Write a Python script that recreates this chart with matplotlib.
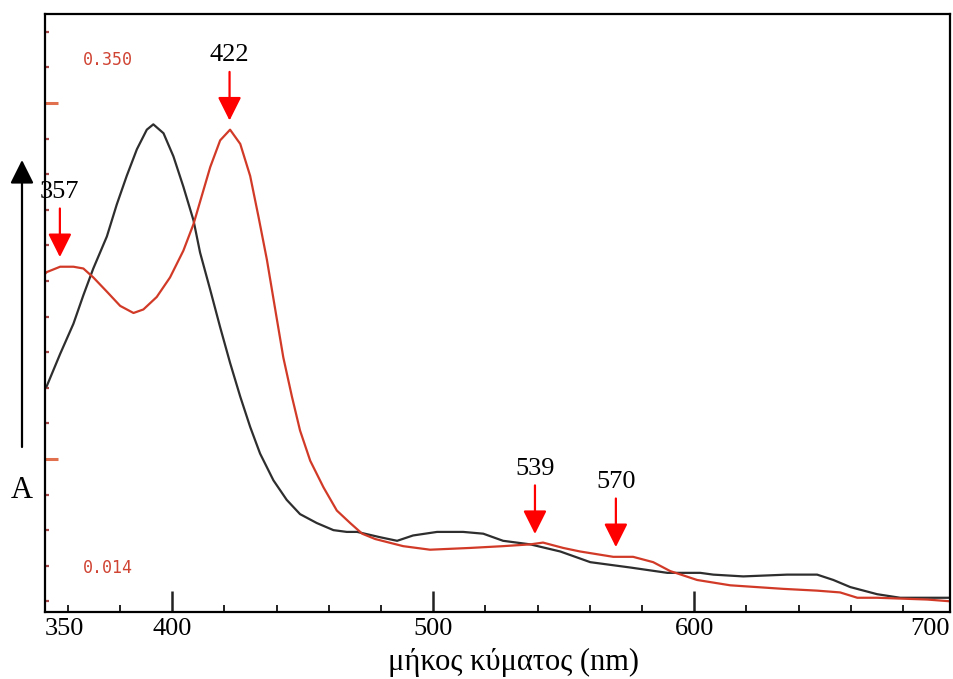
import numpy as np
import matplotlib
matplotlib.use("Agg")
import matplotlib.pyplot as plt

# Absorption spectra (wavelength in nm, absorbance)
black_nm = [351.3, 352.0, 357.1, 362.2, 366.0, 369.8, 375.0, 378.8, 382.6, 386.5,
            390.3, 392.8, 396.7, 400.5, 404.3, 408.2, 410.7, 414.6, 418.4, 422.2,
            426.1, 429.9, 433.7, 438.8, 443.9, 449.0, 455.4, 461.8, 466.9, 470.9,
            479.7, 486.2, 492.3, 501.5, 511.5, 519.2, 526.8, 537.2, 548.7, 560.2,
            575.5, 589.7, 602.3, 607.3, 618.8, 635.6, 647.1, 653.3, 659.8, 670.1,
            678.9, 691.6, 698.1]
black_abs = [0.140, 0.141, 0.159, 0.176, 0.192, 0.207, 0.225, 0.243, 0.259, 0.274,
             0.285, 0.288, 0.283, 0.270, 0.253, 0.234, 0.216, 0.195, 0.174, 0.154,
             0.135, 0.118, 0.103, 0.088, 0.077, 0.069, 0.064, 0.060, 0.059, 0.059,
             0.056, 0.054, 0.057, 0.059, 0.059, 0.058, 0.054, 0.052, 0.048, 0.042,
             0.039, 0.036, 0.036, 0.035, 0.034, 0.035, 0.035, 0.032, 0.028, 0.024,
             0.022, 0.022, 0.022]

red_nm = [351.3, 352.0, 357.1, 362.2, 366.0, 369.8, 375.0, 380.1, 385.2, 389.0,
          394.1, 399.2, 404.3, 408.2, 412.0, 414.6, 418.4, 422.2, 426.1, 429.9,
          433.1, 436.3, 439.5, 442.6, 445.9, 449.0, 452.9, 458.0, 463.1, 468.2,
          472.8, 477.8, 488.5, 498.8, 514.2, 526.8, 537.2, 542.1, 549.8, 556.3,
          569.0, 576.6, 584.3, 590.8, 601.1, 613.8, 634.1, 647.1, 655.9, 662.5,
          670.1, 689.3, 698.1]
red_abs = [0.204, 0.205, 0.208, 0.208, 0.207, 0.202, 0.194, 0.186, 0.182, 0.184,
           0.191, 0.202, 0.217, 0.232, 0.251, 0.264, 0.279, 0.285, 0.277, 0.259,
           0.236, 0.212, 0.184, 0.157, 0.135, 0.116, 0.099, 0.084, 0.071, 0.064,
           0.058, 0.055, 0.051, 0.049, 0.050, 0.051, 0.052, 0.053, 0.050, 0.048,
           0.045, 0.045, 0.042, 0.037, 0.032, 0.029, 0.027, 0.026, 0.025, 0.022,
           0.022, 0.021, 0.020]

peak_labels = [357, 422, 539, 570]
x_major = [400, 500, 600]
x_edge_labels = ["350", "700"]
scale_labels = ["0.350", "0.014"]

serif = ["Liberation Serif", "DejaVu Serif"]
num_size = 19

fig = plt.figure(figsize=(9.54, 6.79), dpi=100)
ax = fig.add_axes([45 / 954, 67 / 679, 905 / 954, 598 / 679])

ax.plot(black_nm, black_abs, color="#2e2e2e", lw=1.6,
        solid_joinstyle="round", solid_capstyle="round")
ax.plot(red_nm, red_abs, color="#d23a28", lw=1.6,
        solid_joinstyle="round", solid_capstyle="round")

ax.set_xlim(351.3, 698.0)
ax.set_ylim(0.014, 0.350)

# frame
for s in ax.spines.values():
    s.set_linewidth(1.6)
    s.set_color("black")

# wavelength ticks: long at every 100 nm, short every 20 nm, drawn inwards
ax.set_xticks(x_major)
ax.set_xticklabels([str(v) for v in x_major], fontfamily=serif, fontsize=num_size)
ax.set_xticks(np.arange(360, 700, 20), minor=True)
ax.tick_params(axis="x", which="major", direction="in", length=15, width=1.8,
               color="#222222", pad=4)
ax.tick_params(axis="x", which="minor", direction="in", length=5, width=1.4,
               color="#222222")
for lab, xa, ha in zip(x_edge_labels, [0.0, 1.0], ["left", "right"]):
    ax.annotate(lab, xy=(xa, 0), xycoords="axes fraction", xytext=(0, -4),
                textcoords="offset points", ha=ha, va="top",
                fontfamily=serif, fontsize=num_size)

# absorbance ticks on the inner left side
ax.set_yticks([0.10, 0.30])
ax.set_yticklabels([])
ax.set_yticks(np.arange(0.02, 0.35, 0.02), minor=True)
ax.tick_params(axis="y", which="major", direction="in", length=9, width=2.2,
               color="#e0704e")
ax.tick_params(axis="y", which="minor", direction="in", length=3, width=1.6,
               color="#a84848")

# instrument scale readouts
for lab, ya in zip(scale_labels, [0.923, 0.0736]):
    ax.text(0.042, ya, lab, transform=ax.transAxes, ha="left", va="center",
            fontfamily="DejaVu Sans Mono", fontsize=12,
            color="#d04434")

# peak markers on the red spectrum
for nm in peak_labels:
    a = float(np.interp(nm, red_nm, red_abs))
    ax.annotate("", xy=(nm, a), xytext=(0, 42), textcoords="offset points",
                arrowprops=dict(arrowstyle="-|>,head_length=0.72,head_width=0.36",
                                mutation_scale=20, color="#ff0000", lw=1.6,
                                shrinkA=0, shrinkB=7))
    ax.annotate(str(nm), xy=(nm, a), xytext=(0, 54), textcoords="offset points",
                ha="center", va="center", fontfamily=serif, fontsize=num_size)

# absorbance axis arrow and label
ax.annotate("", xy=(22 / 954, 1 - 160 / 679), xycoords="figure fraction",
            xytext=(22 / 954, 1 - 447 / 679), textcoords="figure fraction",
            arrowprops=dict(arrowstyle="-|>,head_length=0.72,head_width=0.36",
                            mutation_scale=20, color="black", lw=1.6,
                            shrinkA=0, shrinkB=0),
            annotation_clip=False)
fig.text(22 / 954, 1 - 490 / 679, "A", ha="center", va="center",
         fontfamily=serif, fontsize=22)

fig.text(514 / 954, 1 - 662 / 679, "μήκος κύματος (nm)", ha="center",
         va="center", fontfamily=serif, fontsize=22)

fig.savefig("out.png", dpi=100)
